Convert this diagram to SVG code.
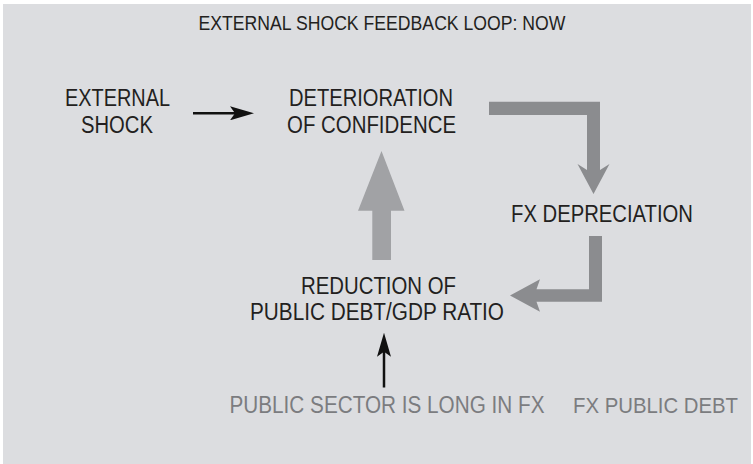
<svg xmlns="http://www.w3.org/2000/svg" width="753" height="464" viewBox="0 0 753 464">
  <style>
    .t { font-family: "Liberation Sans", Arial, sans-serif; font-size: 23px; fill: #231f20; }
    .title { font-size: 20px; }
    .g { fill: #7b7c7f; }
    .wire { stroke: #111; stroke-width: 2.5; fill: none; }
    .bar { fill: #8b8c8f; }
    .bar2 { fill: #a1a2a5; }
  </style>
  <defs>
    <marker id="ah" markerUnits="userSpaceOnUse" markerWidth="24" markerHeight="14" refX="16" refY="7" orient="auto">
      <path d="M0,0 L24,7 L0,14 L5,7 Z" fill="#111"/>
    </marker>
  </defs>
  <rect x="3" y="4" width="748" height="460" fill="#dcdde0"/>

  <g id="title">
    <text class="t title" x="198.5" y="29.5" textLength="367" lengthAdjust="spacingAndGlyphs">EXTERNAL SHOCK FEEDBACK LOOP: NOW</text>
  </g>

  <g id="external-shock">
    <text class="t" x="65" y="106" textLength="105" lengthAdjust="spacingAndGlyphs">EXTERNAL</text>
    <text class="t" x="81" y="133" textLength="72" lengthAdjust="spacingAndGlyphs">SHOCK</text>
  </g>

  <g id="deterioration">
    <text class="t" x="289" y="106" textLength="164" lengthAdjust="spacingAndGlyphs">DETERIORATION</text>
    <text class="t" x="287" y="133" textLength="169" lengthAdjust="spacingAndGlyphs">OF CONFIDENCE</text>
  </g>

  <g id="fx-depreciation">
    <text class="t" x="511" y="221.5" textLength="182" lengthAdjust="spacingAndGlyphs">FX DEPRECIATION</text>
  </g>

  <g id="reduction">
    <text class="t" x="301" y="293.5" textLength="155" lengthAdjust="spacingAndGlyphs">REDUCTION OF</text>
    <text class="t" x="250" y="320" textLength="254" lengthAdjust="spacingAndGlyphs">PUBLIC DEBT/GDP RATIO</text>
  </g>

  <g id="public-sector-long">
    <text class="t g" x="229.5" y="413" textLength="315" lengthAdjust="spacingAndGlyphs">PUBLIC SECTOR IS LONG IN FX</text>
  </g>

  <g id="fx-public-debt">
    <text class="t g" x="573" y="413" transform="translate(573,0) scale(0.885,1) translate(-573,0)">FX PUBLIC DEBT</text>
  </g>

  <g id="connectors">
    <line class="wire" x1="193" y1="113.3" x2="246" y2="113.3" marker-end="url(#ah)"/>
    <path class="bar" d="M489,101.7 H600 V170 L609.5,164 L593.5,194 L577.5,164 L587,170 V115 H489 Z"/>
    <path class="bar" d="M589,236 H602 V301.7 H536.5 L540,311.7 L510,295.5 L540,279.3 L536.5,289.3 H589 Z"/>
    <path class="bar2" d="M372.3,260 V210.7 H358 L381.5,151 L404.5,210.7 H391 V260 Z"/>
    <line class="wire" x1="384" y1="387.5" x2="384" y2="340.7" marker-end="url(#ah)"/>
  </g>
</svg>
